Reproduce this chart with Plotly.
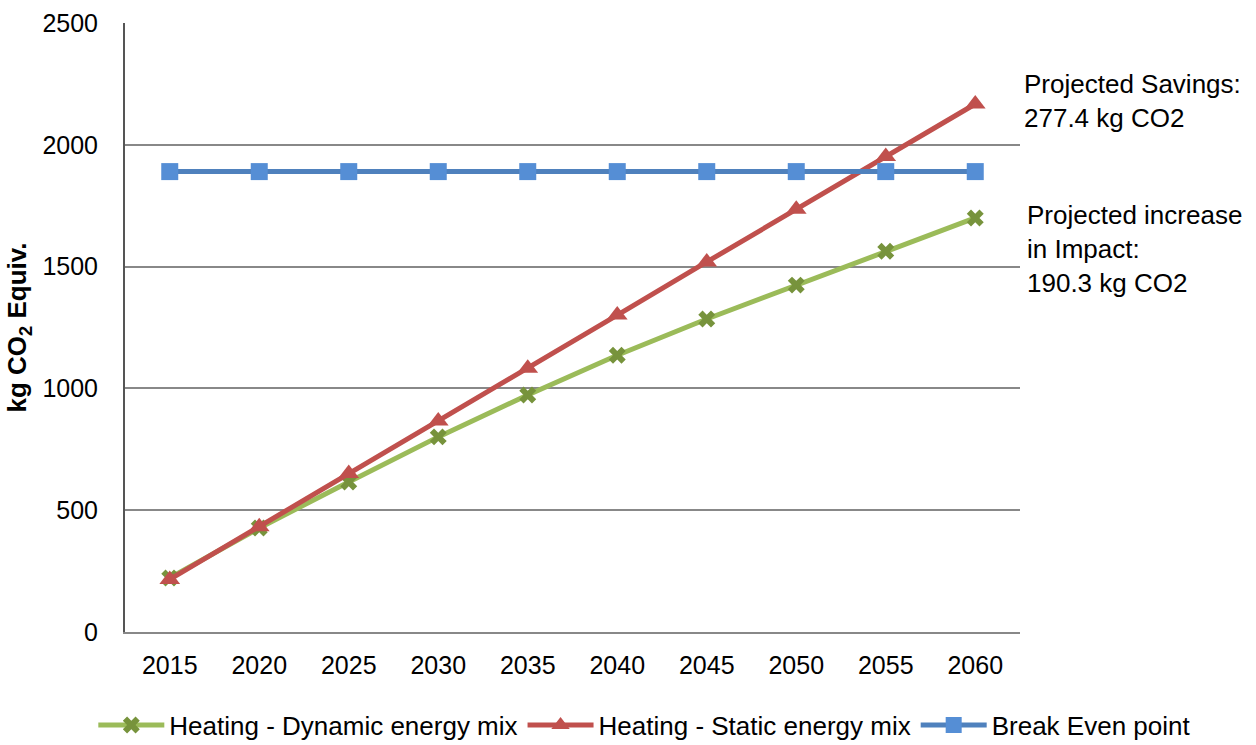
import plotly.graph_objects as go

years = ["2015", "2020", "2025", "2030", "2035", "2040", "2045", "2050", "2055", "2060"]
dynamic_mix = [222, 427, 616, 801, 973, 1136, 1285, 1424, 1563, 1699.7]
static_mix = [216, 432, 651, 866, 1083, 1301, 1519, 1735, 1952, 2167.4]
break_even = [1890] * len(years)

FONT = "Liberation Sans, Arial, sans-serif"
TXT = 26

fig = go.Figure()

fig.add_trace(go.Scatter(
    x=years, y=dynamic_mix, mode="lines+markers",
    name="Heating - Dynamic energy mix",
    line=dict(color="#9BBB59", width=5),
    marker=dict(symbol="x", size=15, color="#77933C", line=dict(width=0)),
))
fig.add_trace(go.Scatter(
    x=years, y=static_mix, mode="lines+markers",
    name="Heating - Static energy mix",
    line=dict(color="#C0504D", width=5),
    marker=dict(symbol="triangle-up", size=18, color="#C0504D", line=dict(width=0)),
))
fig.add_trace(go.Scatter(
    x=years, y=break_even, mode="lines+markers",
    name="Break Even point",
    line=dict(color="#4F81BD", width=5),
    marker=dict(symbol="square", size=17, color="#558ED5", line=dict(width=0)),
))

fig.add_annotation(
    text="Projected Savings:<br>277.4 kg CO2",
    xref="paper", yref="paper", x=1.0017, y=0.928,
    xanchor="left", yanchor="top", align="left", showarrow=False,
    font=dict(family=FONT, size=TXT, color="#000000"),
)
fig.add_annotation(
    text="Projected increase<br>in Impact:<br>190.3 kg CO2",
    xref="paper", yref="paper", x=1.006, y=0.712,
    xanchor="left", yanchor="top", align="left", showarrow=False,
    font=dict(family=FONT, size=TXT, color="#000000"),
)

fig.update_layout(
    width=1256, height=745,
    margin=dict(l=125, r=236, t=23, b=113, autoexpand=False),
    paper_bgcolor="white", plot_bgcolor="white",
    font=dict(family=FONT, size=TXT, color="#000000"),
    showlegend=True,
    legend=dict(
        orientation="h", xref="paper", yref="paper",
        x=1.197, y=-0.153, xanchor="right", yanchor="middle",
        font=dict(family=FONT, size=TXT, color="#000000"),
        itemwidth=66, tracegroupgap=0,
    ),
    xaxis=dict(
        type="category", range=[-0.5, 9.5],
        showgrid=False, zeroline=False,
        showline=True, linecolor="#888888", linewidth=2,
        ticks="", tickfont=dict(family=FONT, size=25, color="#000000"),
        ticklabelstandoff=10,
    ),
    yaxis=dict(
        range=[0, 2500], dtick=500,
        showgrid=True, gridcolor="#888888", gridwidth=1.5,
        zeroline=False,
        showline=True, linecolor="#555555", linewidth=2,
        ticks="", tickfont=dict(family=FONT, size=25, color="#000000"),
        ticklabelstandoff=20,
        title=dict(
            text="<b>kg CO<sub>2</sub> Equiv.</b>",
            font=dict(family=FONT, size=TXT, color="#000000"),
            standoff=8,
        ),
    ),
)

fig.write_html("out.html")
